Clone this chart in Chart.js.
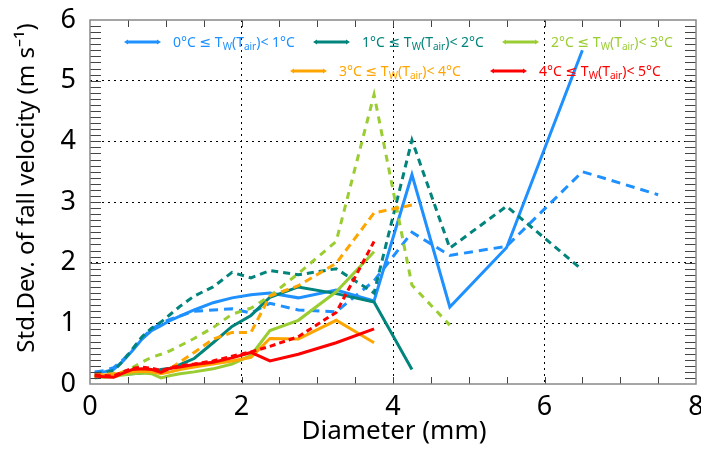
<!DOCTYPE html>
<html>
<head>
<meta charset="utf-8">
<script src="https://cdn.jsdelivr.net/npm/chart.js@4"></script>
<style>
  html, body { margin: 0; padding: 0; background: #fff; }
  #wrap { width: 701px; height: 449px; position: relative; }
</style>
</head>
<body>
<div id="wrap"><canvas id="c" width="701" height="449"></canvas></div>
<script>
// diameter bin centres (mm)
const diam = [0.062, 0.187, 0.312, 0.437, 0.562, 0.687, 0.812, 0.937, 1.062, 1.187, 1.375, 1.625, 1.875, 2.125, 2.375, 2.75, 3.25, 3.75, 4.25, 4.75, 5.5, 6.5, 7.5];

// std dev of fall velocity, solid = Tw, dashed = Tair
const tw0 = [0.18, 0.20, 0.24, 0.38, 0.55, 0.74, 0.88, 0.96, 1.05, 1.12, 1.22, 1.34, 1.42, 1.47, 1.50, 1.42, 1.55, 1.37, 3.45, 1.27, 2.25, 5.50, null];
const ta0 = [0.20, 0.22, 0.27, 0.40, 0.57, 0.76, 0.90, 1.00, 1.07, 1.12, 1.20, 1.22, 1.24, 1.17, 1.33, 1.22, 1.19, 1.70, 2.50, 2.12, 2.27, 3.50, 3.12];
const tw1 = [0.13, 0.13, 0.14, 0.16, 0.17, 0.18, 0.20, 0.24, 0.26, 0.32, 0.42, 0.68, 0.95, 1.13, 1.43, 1.60, 1.49, 1.35, 0.24, null, null, null, null];
const ta1 = [0.17, 0.19, 0.22, 0.38, 0.58, 0.78, 0.92, 1.02, 1.15, 1.28, 1.45, 1.60, 1.84, 1.75, 1.87, 1.80, 1.90, 1.50, 4.02, 2.24, 2.93, 1.88, null];
const tw2 = [0.12, 0.11, 0.12, 0.15, 0.17, 0.18, 0.17, 0.10, 0.14, 0.17, 0.20, 0.25, 0.33, 0.47, 0.88, 1.05, 1.52, 2.18, null, null, null, null, null];
const ta2 = [0.10, 0.12, 0.15, 0.20, 0.27, 0.36, 0.44, 0.49, 0.55, 0.63, 0.75, 0.93, 1.15, 1.25, 1.45, 1.82, 2.35, 4.77, 1.63, 0.97, null, null, null];
const tw3 = [0.14, 0.15, 0.16, 0.18, 0.20, 0.21, 0.20, 0.17, 0.20, 0.24, 0.28, 0.33, 0.38, 0.44, 0.75, 0.74, 1.05, 0.68, null, null, null, null, null];
const ta3 = [0.15, 0.16, 0.17, 0.20, 0.22, 0.22, 0.21, 0.18, 0.26, 0.36, 0.52, 0.74, 0.85, 0.85, 1.45, 1.62, 1.99, 2.82, 2.95, null, null, null, null];
const tw4 = [0.13, 0.12, 0.11, 0.18, 0.24, 0.25, 0.24, 0.19, 0.26, 0.28, 0.32, 0.36, 0.43, 0.52, 0.38, 0.49, 0.68, 0.91, null, null, null, null, null];
const ta4 = [0.15, 0.14, 0.13, 0.20, 0.26, 0.28, 0.26, 0.22, 0.27, 0.30, 0.33, 0.38, 0.46, 0.53, 0.62, 0.78, 1.18, 2.35, null, null, null, null, null];

const colors = ['#1e90ff', '#00847c', '#9acd32', '#ffa500', '#ff0000'];
const rangeLo = ['0', '1', '2', '3', '4'];
const rangeHi = ['1', '2', '3', '4', '5'];
const xTicks = [0, 2, 4, 6, 8];
const yTicks = [0, 1, 2, 3, 4, 5, 6];

const solid = [tw0, tw1, tw2, tw3, tw4];
const dashed = [ta0, ta1, ta2, ta3, ta4];
const dashes = [[9, 6], [7, 5], [7, 6], [8, 5], [6, 4]];

function pts(arr) {
    return diam.map((d, i) => ({ x: d, y: arr[i] })).filter(p => p.y !== null);
}

let datasets = [];
for (let i = 0; i < 5; i++) {
    datasets.push({ data: pts(solid[i]), borderColor: colors[i], borderWidth: 3, pointRadius: 0, tension: 0, order: 20 - 2 * i });
    datasets.push({ data: pts(dashed[i]), borderColor: colors[i], borderWidth: 3, borderDash: dashes[i], pointRadius: 0, tension: 0, order: 19 - 2 * i });
}

const FONT = "'Noto Sans', 'DejaVu Sans', sans-serif";

// frame, inner ticks, axis titles and legend
const decor = {
    id: 'decor',
    afterDraw(chart) {
        const ctx = chart.ctx;
        const a = chart.chartArea;
        const xs = chart.scales.x, ys = chart.scales.y;
        ctx.save();
        // minor ticks
        ctx.strokeStyle = '#444';
        ctx.lineWidth = 1;
        ctx.beginPath();
        for (let v = 0.5; v < 8; v += 0.5) {
            const px = Math.round(xs.getPixelForValue(v)) + 0.5;
            ctx.moveTo(px, a.bottom); ctx.lineTo(px, a.bottom - 7);
            ctx.moveTo(px, a.top); ctx.lineTo(px, a.top + 7);
        }
        for (let k = 1; k < 60; k++) {
            const py = Math.round(ys.getPixelForValue(k / 10)) + 0.5;
            ctx.moveTo(a.left, py); ctx.lineTo(a.left + 11, py);
            ctx.moveTo(a.right, py); ctx.lineTo(a.right - 11, py);
        }
        ctx.stroke();
        // frame
        ctx.strokeStyle = '#888';
        ctx.lineWidth = 1.5;
        ctx.strokeRect(a.left, a.top, a.right - a.left, a.bottom - a.top);

        // axis titles
        ctx.fillStyle = '#000';
        ctx.textAlign = 'center';
        ctx.textBaseline = 'middle';
        ctx.font = '26px ' + FONT;
        ctx.fillText('Diameter (mm)', (a.left + a.right) / 2 + 1, 432);
        ctx.save();
        ctx.font = '24px ' + FONT;
        ctx.translate(27, 188);
        ctx.rotate(-Math.PI / 2);
        ctx.fillText('Std.Dev. of fall velocity (m s\u207B\u00B9)', 0, 0);
        ctx.restore();

        // legend
        const items = [
            [124, 42], [313, 42], [502, 42], [290, 71], [490, 71]
        ];
        ctx.textAlign = 'left';
        ctx.textBaseline = 'alphabetic';
        items.forEach((p, i) => {
            const x = p[0], y = p[1];
            ctx.strokeStyle = colors[i];
            ctx.fillStyle = colors[i];
            ctx.lineWidth = 3;
            ctx.beginPath();
            ctx.moveTo(x + 3, y); ctx.lineTo(x + 34, y);
            ctx.stroke();
            ctx.beginPath();
            ctx.moveTo(x, y); ctx.lineTo(x + 4, y - 2.5); ctx.lineTo(x + 4, y + 2.5); ctx.closePath();
            ctx.moveTo(x + 37, y); ctx.lineTo(x + 33, y - 2.5); ctx.lineTo(x + 33, y + 2.5); ctx.closePath();
            ctx.fill();
            const parts = [
                [rangeLo[i] + '\u00B0C \u2264 T', 0], ['W', 1], ['(T', 0], ['air', 1], [')< ' + rangeHi[i] + '\u00B0C', 0]
            ];
            let tx = x + 49;
            const base = y + 5;
            parts.forEach(([s, sub]) => {
                ctx.font = (sub ? '10px ' : '14px ') + FONT;
                ctx.fillText(s, tx, sub ? base + 3 : base);
                tx += ctx.measureText(s).width;
            });
        });
        ctx.restore();
    }
};

new Chart(document.getElementById('c'), {
    type: 'line',
    data: { datasets: datasets },
    plugins: [decor],
    options: {
        responsive: false,
        animation: false,
        layout: { padding: { top: 20, right: 5, left: 0, bottom: 0 } },
        plugins: { legend: { display: false }, tooltip: { enabled: false } },
        scales: {
            x: {
                type: 'linear', min: 0, max: 8,
                afterFit: s => { s.height = 65; s.paddingRight = 0; s.paddingLeft = 0; },
                afterBuildTicks: s => { s.ticks = xTicks.map(v => ({ value: v })); },
                ticks: { font: { size: 27, family: FONT }, color: '#000', padding: 7, maxRotation: 0 },
                grid: {
                    drawTicks: false, lineWidth: 1,
                    color: c => (c.tick && c.tick.value > 0 && c.tick.value < 8) ? '#000' : 'rgba(0,0,0,0)'
                },
                border: { display: false, dash: [2, 4] }
            },
            y: {
                min: 0, max: 6,
                afterFit: s => { s.width = 90; s.paddingTop = 0; s.paddingBottom = 0; },
                afterBuildTicks: s => { s.ticks = yTicks.map(v => ({ value: v })); },
                ticks: { font: { size: 27, family: FONT }, color: '#000', padding: 14 },
                grid: {
                    drawTicks: false, lineWidth: 1,
                    color: c => (c.tick && c.tick.value > 0 && c.tick.value < 6) ? '#000' : 'rgba(0,0,0,0)'
                },
                border: { display: false, dash: [2, 4] }
            }
        }
    }
});
</script>
</body>
</html>
